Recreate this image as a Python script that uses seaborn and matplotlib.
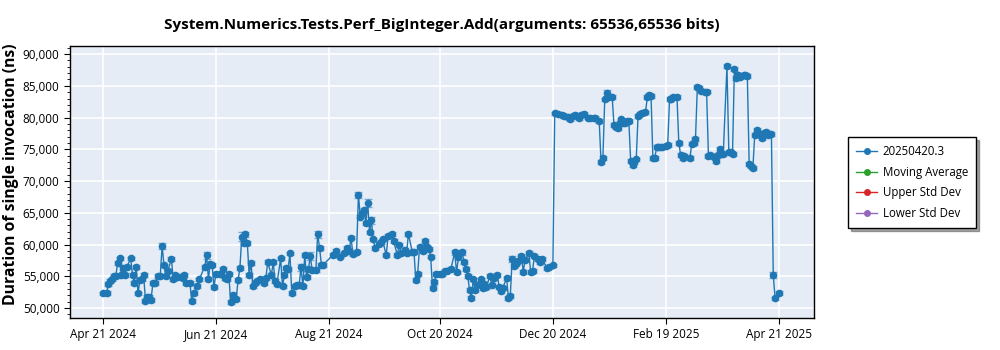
import pandas as pd
import numpy as np
import matplotlib
matplotlib.use('Agg')
import matplotlib.pyplot as plt
import matplotlib.dates as mdates
from matplotlib.lines import Line2D
from matplotlib.ticker import FuncFormatter, MultipleLocator
import seaborn as sns

title = 'System.Numerics.Tests.Perf_BigInteger.Add(arguments: 65536,65536 bits)'
series_name = '20250420.3'
start_date = '2024-04-21'

# days since start_date for each run
day_offsets = [
    0, 2, 3, 4, 5, 6, 7, 8, 9, 10, 11, 12, 13, 15, 16, 17, 18, 19, 20, 21,
    22, 23, 24, 25, 26, 27, 28, 30, 31, 32, 33, 34, 35, 37, 38, 39, 40, 42, 43, 44,
    45, 47, 48, 49, 51, 52, 55, 56, 57, 58, 59, 60, 61, 63, 64, 65, 66, 67, 68, 69,
    70, 71, 72, 73, 74, 75, 76, 77, 78, 79, 80, 81, 82, 83, 85, 87, 88, 89, 91, 92,
    93, 94, 96, 97, 98, 99, 100, 101, 102, 104, 105, 106, 107, 108, 109, 110, 111, 112, 113, 115,
    116, 117, 118, 119, 124, 126, 128, 130, 132, 133, 134, 135, 137, 138, 139, 140, 141, 142, 143, 144,
    145, 146, 147, 149, 150, 151, 153, 154, 156, 157, 159, 160, 161, 163, 164, 165, 167, 168, 169, 170,
    171, 173, 174, 175, 176, 177, 178, 179, 180, 182, 183, 185, 186, 188, 190, 191, 192, 194, 195, 196,
    197, 198, 199, 200, 201, 202, 204, 205, 206, 207, 209, 210, 211, 213, 214, 215, 216, 218, 219, 220,
    221, 222, 223, 224, 226, 227, 228, 230, 231, 232, 233, 235, 236, 237, 240, 241, 243, 244, 246, 248,
    249, 251, 252, 254, 255, 257, 258, 260, 262, 263, 265, 266, 268, 269, 270, 271, 272, 273, 275, 276,
    277, 278, 279, 280, 281, 282, 283, 284, 285, 286, 287, 288, 289, 290, 291, 293, 294, 295, 296, 297,
    298, 299, 300, 301, 302, 304, 305, 306, 307, 308, 310, 311, 312, 313, 314, 317, 318, 319, 320, 321,
    322, 323, 325, 326, 327, 328, 330, 331, 332, 333, 334, 335, 337, 338, 339, 340, 341, 342, 343, 344,
    346, 347, 348, 349, 350, 351, 352, 353, 354, 355, 356, 357, 358, 359, 361, 362, 363, 365,
]

duration_ns = [
    52300, 52400, 53800, 54200, 54500, 55100, 55100, 57100, 57800, 55200, 56250, 55200, 56500, 57800, 55200, 54000, 56400, 52300, 54400, 54600,
    55200, 51150, 51800, 51700, 51300, 53900, 54000, 55100, 55100, 59800, 56700, 55000, 55800, 57700, 54600, 55200, 54900, 54900, 54700, 55200,
    53900, 53900, 51150, 52400, 53500, 54500, 56500, 58300, 54600, 57000, 56800, 53300, 55300, 55400, 55400, 56100, 54700, 54600, 55300, 51000,
    52000, 51400, 51400, 54400, 56300, 61200, 60200, 61600, 60200, 55200, 57100, 53400, 53900, 54200, 54500, 54000, 54700, 57200, 55200, 57200,
    54200, 53800, 57800, 53400, 55200, 56300, 56100, 58600, 52400, 53400, 53700, 53700, 56400, 53400, 58300, 54900, 56100, 58200, 56000, 56000,
    61600, 59500, 56800, 56800, 58300, 59000, 58100, 58600, 59500, 59000, 61100, 58500, 58900, 67800, 64400, 64900, 65500, 63400, 66500, 61900,
    63800, 60800, 59500, 60100, 60400, 60800, 58300, 61300, 61700, 60600, 58300, 60000, 58600, 59200, 58600, 61700, 58900, 58800, 54400, 55400,
    59600, 59000, 60600, 59600, 59300, 58100, 53200, 54100, 55300, 55400, 55400, 55800, 55900, 56200, 58800, 55600, 58000, 58800, 57200, 56200,
    55100, 52800, 51600, 54500, 52800, 53600, 54500, 53100, 53800, 53300, 55000, 53600, 54700, 55200, 53300, 52700, 53200, 54700, 51600, 51900,
    57700, 56600, 57000, 57400, 58200, 55700, 57600, 58700, 55700, 55800, 58200, 57700, 57200, 57700, 56300, 56500, 56700, 80650, 80500, 80400,
    80300, 80100, 79700, 80300, 80400, 79900, 80400, 80500, 80000, 79900, 80000, 79900, 79500, 73050, 73600, 82850, 83800, 83200, 83300, 78800,
    78500, 78300, 79100, 79700, 79200, 79100, 79400, 79500, 73200, 72500, 73000, 73400, 80300, 80600, 80700, 80800, 83200, 83600, 83400, 73600,
    73600, 75300, 75300, 75300, 75400, 75500, 75700, 82900, 83000, 83200, 83300, 76000, 74100, 73600, 74000, 73600, 75900, 76000, 76600, 84750,
    84600, 84200, 84100, 84100, 73900, 74100, 73800, 73200, 74100, 75000, 74300, 74300, 88100, 74600, 74500, 74300, 87600, 86200, 86700, 86400,
    86700, 86700, 86500, 72700, 72400, 72100, 77300, 78000, 77600, 77300, 76700, 77600, 77800, 77300, 77400, 55200, 51500, 52400,
]

# typical spread, with the wider bars
base_err = 300
wide_err = {32: 500, 56: 600, 75: 700, 77: 400, 107: 600, 112: 600, 116: 500, 138: 400,
            143: 600, 145: 600, 190: 400, 194: 400, 221: 500, 272: 500, 337: 300, 362: 500}

legend_labels = [series_name, 'Moving Average', 'Upper Std Dev', 'Lower Std Dev']
legend_colors = ['#1f77b4', '#2ca02c', '#d62728', '#9467bd']
x_ticks = ['2024-04-21', '2024-06-21', '2024-08-21', '2024-10-20', '2024-12-20', '2025-02-19', '2025-04-21']

df = pd.DataFrame({'date': pd.Timestamp(start_date) + pd.to_timedelta(day_offsets, unit='D'),
                   'duration': duration_ns})
df['err'] = [wide_err.get(d, base_err) for d in day_offsets]

font = ['Open Sans', 'DejaVu Sans']
plt.rcParams['font.family'] = font

fig = plt.figure(figsize=(10, 3.5), dpi=100)
ax = fig.add_axes([0.07, 0.0914, 0.744, 0.777])
ax.set_facecolor('#E5ECF6')

ax.errorbar(df['date'], df['duration'], yerr=df['err'], fmt='none', ecolor='#1f77b4',
            elinewidth=1, capsize=3, capthick=1, alpha=0.55, zorder=2)
sns.lineplot(data=df, x='date', y='duration', ax=ax, color='#1f77b4', linewidth=1,
             marker='o', markersize=5.5, markeredgewidth=0, zorder=3)

ax.grid(True, color='white', linewidth=1.2)
ax.set_axisbelow(True)
for s in ax.spines.values():
    s.set_color('black')
    s.set_linewidth(1)

ax.set_xlim(pd.Timestamp('2024-04-03 06:00'), pd.Timestamp('2025-05-10'))
ax.set_ylim(48425, 91260)
ax.set_xticks(pd.to_datetime(x_ticks))
ax.xaxis.set_major_formatter(mdates.DateFormatter('%b %d %Y'))
ax.yaxis.set_major_locator(MultipleLocator(5000))
ax.yaxis.set_minor_locator(MultipleLocator(1000))
ax.yaxis.set_major_formatter(FuncFormatter(lambda v, p: f'{v:,.0f}'))
ax.tick_params(axis='both', labelsize=8.5, length=4, color='black')
ax.tick_params(axis='y', which='minor', length=2)

ax.set_xlabel('')
ax.set_ylabel('Duration of single invocation (ns)', fontsize=11.3, fontweight='bold', labelpad=3)
ax.yaxis.set_label_coords(-0.068, 0.53)
ax.set_title(title, fontsize=11, fontweight='bold', pad=12)

handles = [Line2D([0], [0], color=c, marker='o', markersize=4, linewidth=1) for c in legend_colors]
leg = ax.legend(handles, legend_labels, loc='upper left', bbox_to_anchor=(1.046, 0.665),
                borderaxespad=0, frameon=True, fancybox=False, shadow=True, fontsize=8.3,
                handlelength=1.8, handletextpad=0.5, labelspacing=0.65, borderpad=0.7)
leg.get_frame().set_edgecolor('black')
leg.get_frame().set_linewidth(1)

fig.savefig('out.png', dpi=100)
